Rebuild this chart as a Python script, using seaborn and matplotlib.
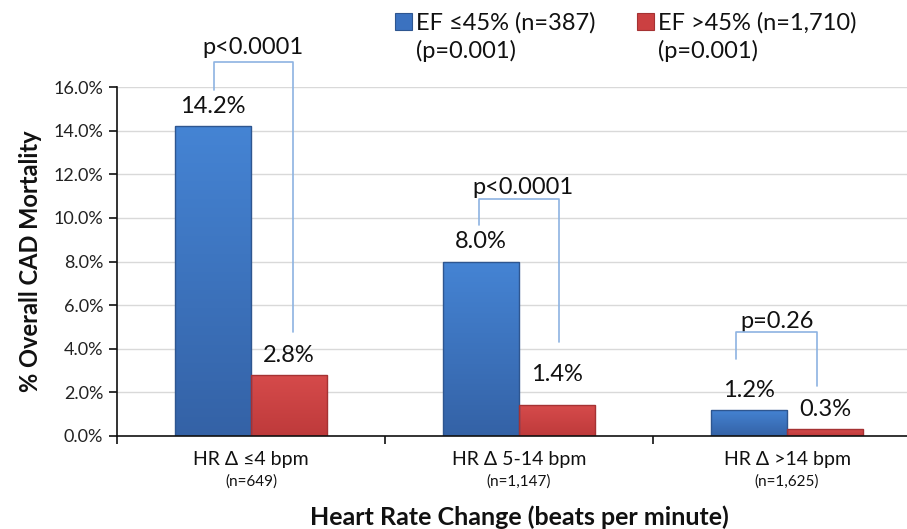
import numpy as np
import pandas as pd
import matplotlib
matplotlib.use("Agg")
import matplotlib.pyplot as plt
from matplotlib.patches import Patch
from matplotlib.colors import LinearSegmentedColormap
import seaborn as sns

# ---- data ----
categories = ["HR \u0394 \u22644 bpm", "HR \u0394 5-14 bpm", "HR \u0394 >14 bpm"]
category_n = ["(n=649)", "(n=1,147)", "(n=1,625)"]
groups = ["EF \u226445% (n=387)", "EF >45% (n=1,710)"]
group_p = ["(p=0.001)", "(p=0.001)"]
ef_low = [14.2, 8.0, 1.2]
ef_high = [2.8, 1.4, 0.3]
pair_p = ["p<0.0001", "p<0.0001", "p=0.26"]
y_ticks = [0, 2, 4, 6, 8, 10, 12, 14, 16]

# ---- styling / annotation geometry ----
colors = ["#3B72C0", "#CB4041"]
grad_colors = [("#3462A6", "#4584D4"), ("#BE3A3B", "#D64B4B")]
edge_colors = ["#2E5690", "#A53233"]
bracket_left = [-0.138, -0.149, -0.19]
bracket_right = [0.157, 0.149, 0.112]
bracket_top = [17.16, 10.87, 4.77]
bracket_left_bottom = [15.87, 9.68, 3.53]
bracket_right_bottom = [4.77, 4.31, 2.29]
ptext_dx = [0.007, 0.015, -0.037]
ptext_y = [17.8, 11.38, 5.23]
label_pad = [[6.5, 6.5, 6.5], [6.5, 15.0, 6.5]]

sns.set_theme(style="white")
plt.rcParams["font.family"] = ["Lato", "DejaVu Sans"]
plt.rcParams["text.color"] = "#111111"

df = pd.DataFrame({
    "cat": categories * 2,
    "grp": [groups[0]] * 3 + [groups[1]] * 3,
    "val": ef_low + ef_high,
})

fig = plt.figure(figsize=(9.07, 5.29), dpi=100)
W, H = 907, 529
ax = fig.add_axes([117 / W, 1 - 436 / H, (921 - 117) / W, (436 - 87) / H])

sns.barplot(data=df, x="cat", y="val", hue="grp", palette=colors, width=0.57,
            order=categories, hue_order=groups, legend=False, ax=ax,
            edgecolor="none", linewidth=0, saturation=1)

# gradient fill clipped to each bar
gradient = np.linspace(0, 1, 256).reshape(-1, 1)
for cont, (cb, ct), ec in zip(ax.containers, grad_colors, edge_colors):
    cmap = LinearSegmentedColormap.from_list("g", [cb, ct])
    for bar in cont:
        x, y, w, h = bar.get_x(), bar.get_y(), bar.get_width(), bar.get_height()
        im = ax.imshow(gradient, extent=[x, x + w, y, y + h], origin="lower",
                       cmap=cmap, aspect="auto", zorder=bar.get_zorder() + 0.1,
                       interpolation="bilinear")
        im.set_clip_path(bar)
        bar.set_edgecolor(ec)
        bar.set_linewidth(1.0)
        bar.set_zorder(bar.get_zorder() + 0.2)
        bar.set_facecolor("none")

ax.set_xlim(-0.5, 2.5)
ax.set_ylim(0, 16)
ax.set_yticks(y_ticks)
ax.set_yticklabels([f"{v:.1f}%" for v in y_ticks], fontsize=13, color="#222222")
ax.yaxis.grid(True, color="#D9D9D9", linewidth=1.0)
ax.set_axisbelow(True)

for s in ["top", "right"]:
    ax.spines[s].set_visible(False)
for s in ["left", "bottom"]:
    ax.spines[s].set_color("#111111")
    ax.spines[s].set_linewidth(1.2)

ax.tick_params(axis="y", which="major", direction="out", length=6, width=1.2,
               color="#111111", left=True, pad=4)
ax.set_xticks(range(len(categories)))
ax.set_xticklabels(categories, fontsize=14, color="#111111")
ax.tick_params(axis="x", which="major", length=0, pad=11)
ax.set_xticks([-0.5, 0.5, 1.5, 2.5], minor=True)
ax.tick_params(axis="x", which="minor", direction="out", length=6, width=1.2,
               color="#111111", bottom=True)

for i, n in enumerate(category_n):
    ax.annotate(n, xy=(i, 0), xycoords=("data", "axes fraction"),
                xytext=(0, -33), textcoords="offset points",
                ha="center", va="center", fontsize=11, color="#111111")

ax.set_xlabel("Heart Rate Change (beats per minute)", fontsize=18,
              fontweight="bold", labelpad=27, color="#111111")
ax.set_ylabel("% Overall CAD Mortality", fontsize=17, fontweight="bold",
              labelpad=8, color="#111111")

# value labels
for cont, pads in zip(ax.containers, label_pad):
    for bar, pad in zip(cont, pads):
        h = bar.get_height()
        ax.annotate(f"{h:.1f}%", xy=(bar.get_x() + bar.get_width() / 2, h),
                    xytext=(0, pad), textcoords="offset points",
                    ha="center", va="bottom", fontsize=17, color="#111111")

# significance brackets
for i in range(len(categories)):
    xl = i + bracket_left[i]
    xr = i + bracket_right[i]
    ax.plot([xl, xl, xr, xr],
            [bracket_left_bottom[i], bracket_top[i], bracket_top[i], bracket_right_bottom[i]],
            color="#8DB3E2", linewidth=1.2, clip_on=False, zorder=5)
    ax.text(i + ptext_dx[i], ptext_y[i], pair_p[i], ha="center", va="center",
            fontsize=17, color="#111111", clip_on=False)

# legend
handles = [Patch(facecolor=colors[0], edgecolor=edge_colors[0], linewidth=0.8),
           Patch(facecolor="none", edgecolor="none"),
           Patch(facecolor=colors[1], edgecolor=edge_colors[1], linewidth=0.8),
           Patch(facecolor="none", edgecolor="none")]
labels = [groups[0], group_p[0], groups[1], group_p[1]]
fig.legend(handles, labels, ncol=2, loc="upper left",
           bbox_to_anchor=(395 / W, 1 - 12 / H), frameon=False, fontsize=17,
           handlelength=0.7, handleheight=0.7, handletextpad=0.2,
           columnspacing=1.75, labelspacing=0.28, borderpad=0, borderaxespad=0)

fig.savefig("out.png", dpi=100)
